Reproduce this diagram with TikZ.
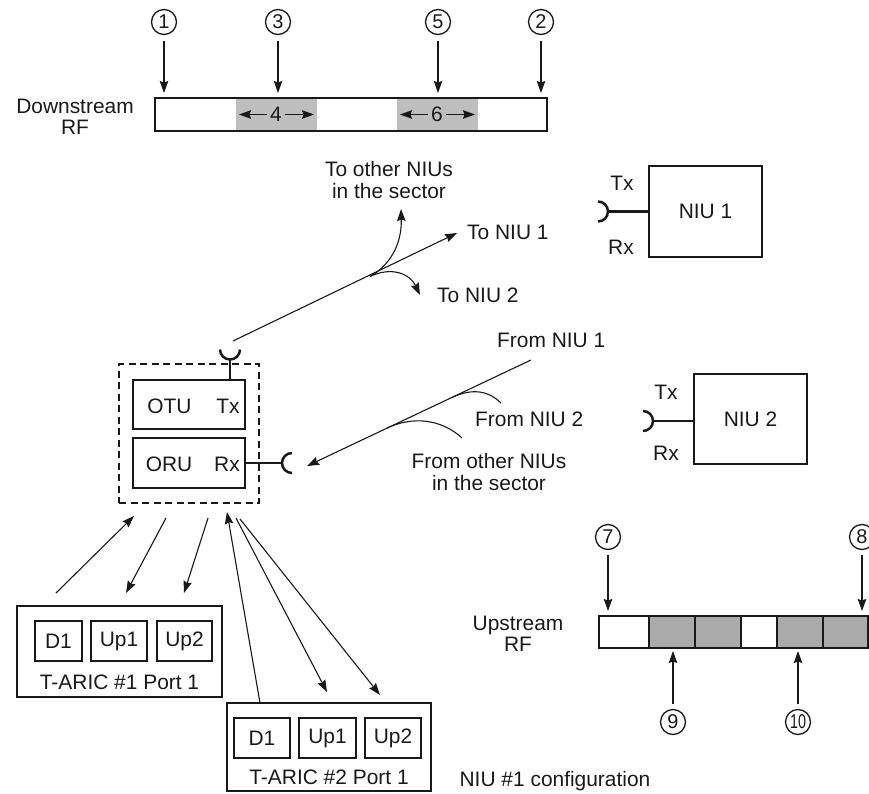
\documentclass[tikz,border=0pt]{standalone}
\usepackage{fontspec}
\setmainfont{Liberation Sans}
\usetikzlibrary{arrows.meta}
\definecolor{dsgrey}{RGB}{190,190,190}
\definecolor{usgrey}{RGB}{170,170,170}
\definecolor{ink}{RGB}{25,25,25}
\tikzset{
  txt/.style={inner sep=0pt, font=\fontsize{21}{21.5}\selectfont, text=ink},
  box/.style={draw=ink, line width=2bp, inner sep=0pt, font=\fontsize{21}{21.5}\selectfont, text=ink},
  conn/.style={draw=ink, line width=1.1bp},
  arr/.style={conn, -{Stealth[length=12bp,width=8.5bp,inset=1.5bp]}},
  cnum/.style={circle, draw=ink, line width=1.3bp, minimum size=25bp, inner sep=0pt, font=\fontsize{20}{20}\selectfont, text=ink},
  cup/.style={draw=ink, line width=2.5bp},
}
\begin{document}
\begin{tikzpicture}[x=1bp,y=-1bp]
\useasboundingbox (0,0) rectangle (869,794);

% ---------------- Downstream RF ----------------
\node[txt, align=center] (dsl) at (75,117) {Downstream\\RF};
\fill[dsgrey] (236,98) rectangle (317,131);
\fill[dsgrey] (397,98) rectangle (478,131);
\draw[ink, line width=2bp] (155,98) rectangle (547,131);
\node[cnum] (c1) at (164,22) {1};
\node[cnum] (c3) at (278,22) {3};
\node[cnum] (c5) at (438,22) {5};
\node[cnum] (c2) at (541,22) {2};
\coordinate (d1) at (164,93);
\coordinate (d3) at (278,93);
\coordinate (d5) at (438,93);
\coordinate (d2) at (541,93);
\draw[arr, shorten <=6bp] (c1) -- (d1);
\draw[arr, shorten <=6bp] (c3) -- (d3);
\draw[arr, shorten <=6bp] (c5) -- (d5);
\draw[arr, shorten <=6bp] (c2) -- (d2);
\node[txt] (n4) at (276,114.5) {4};
\coordinate (g4l) at (239,114.5);
\coordinate (g4r) at (314,114.5);
\draw[arr, shorten <=3bp] (n4) -- (g4l);
\draw[arr, shorten <=3bp] (n4) -- (g4r);
\node[txt] (n6) at (437,114.5) {6};
\coordinate (g6l) at (400,114.5);
\coordinate (g6r) at (475,114.5);
\draw[arr, shorten <=3bp] (n6) -- (g6l);
\draw[arr, shorten <=3bp] (n6) -- (g6r);

% ---------------- NIU boxes ----------------
\node[box, line width=2.5bp, minimum width=113bp, minimum height=91bp] (niu1) at (705.5,211.5) {NIU 1};
\node[txt] (niu1tx) at (622,183) {Tx};
\node[txt] (niu1rx) at (621,247) {Rx};
\coordinate (niu1jack) at (608,211.5);
\draw[cup] (niu1jack) -- (niu1.west |- niu1jack);
\draw[cup] (598,201.5) arc[start angle=90, end angle=-90, radius=10bp];

\node[box, line width=2.5bp, minimum width=113bp, minimum height=90bp] (niu2) at (750.5,419) {NIU 2};
\node[txt] (niu2tx) at (666,392) {Tx};
\node[txt] (niu2rx) at (666,453) {Rx};
\coordinate (niu2jack) at (653,421);
\draw[cup] (niu2jack) -- (niu2.west |- niu2jack);
\draw[cup] (643,411) arc[start angle=90, end angle=-90, radius=10bp];

% ---------------- Hub (OTU / ORU) ----------------
\node[draw=ink, dash pattern=on 7bp off 4.5bp, line width=2.2bp, minimum width=140bp, minimum height=139bp] (hub) at (189,433.5) {};
\node[box, minimum width=112bp, minimum height=49bp] (otu) at (189,404.5) {};
\node[txt] (otul) at (169.5,406) {OTU};
\node[txt] (otutx) at (228,406) {Tx};
\node[box, minimum width=112bp, minimum height=50bp] (oru) at (189,463) {};
\node[txt] (orul) at (169,464) {ORU};
\node[txt] (orurx) at (227,464) {Rx};
\coordinate (txjack) at (230,359.5);
\draw[cup] (otu.north -| txjack) -- (txjack);
\draw[cup] (220,349.5) arc[start angle=180, end angle=360, radius=10bp];
\coordinate (rxjack) at (282,463);
\draw[cup] (oru.east |- rxjack) -- (rxjack);
\draw[cup] (292,453) arc[start angle=90, end angle=270, radius=10bp];

% ---------------- Downstream optical paths ----------------
\coordinate (txout) at (233,341);
\coordinate (toniu1) at (457,233);
\coordinate (br1) at (370,276.5);
\coordinate (toother) at (401,209);
\coordinate (toniu2) at (420,295);
\draw[arr] (txout) -- (toniu1);
\draw[arr] (br1) .. controls (389,266) and (402,245) .. (toother);
\draw[arr] (br1) .. controls (392,266) and (410,274) .. (toniu2);
\node[txt, align=center] (tootherl) at (389,180) {To other NIUs\\in the sector};
\node[txt, anchor=west] (toniu1l) at (467,232) {To NIU 1};
\node[txt, anchor=west] (toniu2l) at (437,295) {To NIU 2};

% ---------------- Upstream optical paths ----------------
\coordinate (fromn1) at (531,360);
\coordinate (rxin) at (307,466);
\draw[arr] (fromn1) -- (rxin);
\coordinate (br2) at (452,397.5);
\coordinate (fromn2end) at (501,403);
\coordinate (br3) at (387,428);
\coordinate (fromothend) at (462,438);
\draw[conn] (br2) .. controls (474,387) and (490,392) .. (fromn2end);
\draw[conn] (br3) .. controls (420,413) and (447,424) .. (fromothend);
\node[txt, anchor=west] (fromn1l) at (497,340) {From NIU 1};
\node[txt, anchor=west] (fromn2l) at (475,419) {From NIU 2};
\node[txt, align=center] (fromothl) at (489,472) {From other NIUs\\in the sector};

% ---------------- T-ARIC boxes ----------------
\node[box, minimum width=205bp, minimum height=91bp] (ta1) at (119.5,651.5) {};
\node[box, minimum width=47bp, minimum height=40bp] (ta1d) at (58.5,641) {D1};
\node[box, minimum width=56bp, minimum height=40bp] (ta1u1) at (119,641) {Up1};
\node[box, minimum width=55bp, minimum height=40bp] (ta1u2) at (184.5,641) {Up2};
\node[txt] (ta1l) at (119.5,682) {T-ARIC \#1 Port 1};

\node[box, minimum width=204bp, minimum height=88bp] (ta2) at (329,747) {};
\node[box, minimum width=56bp, minimum height=40bp] (ta2d) at (262,738) {D1};
\node[box, minimum width=57bp, minimum height=40bp] (ta2u1) at (327.5,738) {Up1};
\node[box, minimum width=56bp, minimum height=40bp] (ta2u2) at (393,738) {Up2};
\node[txt] (ta2l) at (329,777) {T-ARIC \#2 Port 1};

\coordinate (a1s) at (56,593);   \coordinate (a1e) at (134,516);
\coordinate (a2s) at (166,518);  \coordinate (a2e) at (126,593);
\coordinate (a3s) at (208,518);  \coordinate (a3e) at (184,593);
\coordinate (a4s) at (260,703);  \coordinate (a4e) at (227,512);
\coordinate (a5s) at (236,518);  \coordinate (a5e) at (327,692);
\coordinate (a6s) at (240,519);  \coordinate (a6e) at (380,695);
\draw[arr] (a1s) -- (a1e);
\draw[arr] (a2s) -- (a2e);
\draw[arr] (a3s) -- (a3e);
\draw[arr] (a4s) -- (a4e);
\draw[arr] (a5s) -- (a5e);
\draw[arr] (a6s) -- (a6e);

% ---------------- Upstream RF ----------------
\node[txt, align=center] (usl) at (518,634) {Upstream\\RF};
\fill[usgrey] (649,616) rectangle (741,648);
\fill[usgrey] (777,616) rectangle (868,648);
\draw[ink, line width=2bp] (599,616) rectangle (868,648);
\foreach \xx in {649,695,741,777,823} \draw[ink, line width=2bp] (\xx,616) -- (\xx,648);
\node[cnum] (c7) at (608,537) {7};
\node[cnum] (c8) at (862,537) {8};
\node[cnum] (c9) at (673,722) {9};
\node[cnum] (c10) at (798,722) {\scalebox{0.72}[1]{10}};
\coordinate (u7) at (608,611);
\coordinate (u8) at (862,611);
\coordinate (u9) at (673,651);
\coordinate (u10) at (798,651);
\draw[arr, shorten <=5bp] (c7) -- (u7);
\draw[arr, shorten <=5bp] (c8) -- (u8);
\draw[arr, shorten <=5bp] (c9) -- (u9);
\draw[arr, shorten <=5bp] (c10) -- (u10);

\node[txt] (cfg) at (555,781) {NIU \#1 configuration};
\end{tikzpicture}
\end{document}
